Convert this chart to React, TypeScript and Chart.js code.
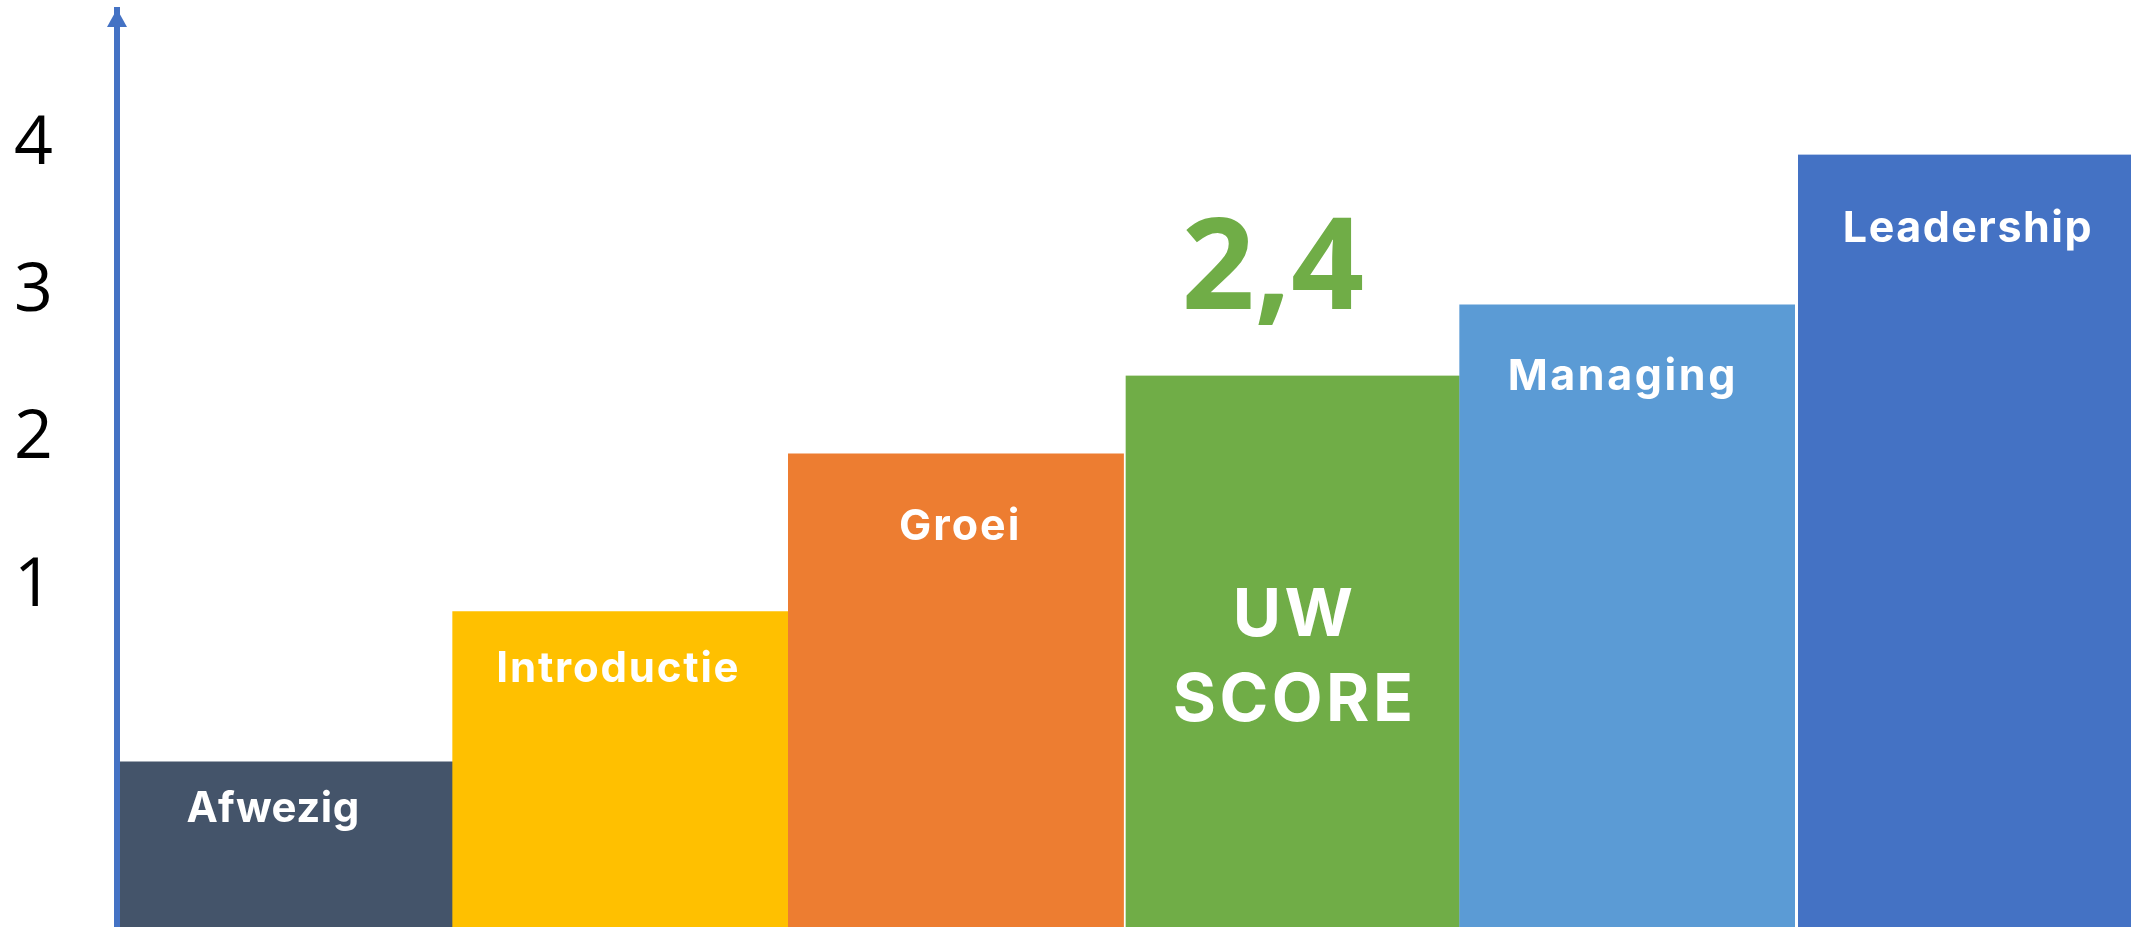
import React, { useEffect, useRef } from "react";
import { Chart, registerables } from "chart.js";

Chart.register(...registerables);

// ---- data ----
const categories = ["Afwezig", "Introductie", "Groei", "UW SCORE", "Managing", "Leadership"];
const levelValues = [-0.19, 0.83, 1.9, 2.43, 2.91, 3.93];
const axisBase = -1.31;
const axisMax = 4.91;
const tickValues = [1, 2, 3, 4];
const tickLabels = ["1", "2", "3", "4"];
const barLabelLines = [["Afwezig"], ["Introductie"], ["Groei"], ["UW", "SCORE"], ["Managing"], ["Leadership"]];
const scoreIndex = 3;
const scoreText = "2,4";

// ---- styles ----
const barColors = ["#44546A", "#FFC000", "#ED7D31", "#70AD47", "#5B9BD5", "#4472C4"];
const axisColor = "#4472C4";
const labelStyles = [
  { font: "700 42px Inter", ls: 0.5, dx: -12, dy: 60, lh: 0 },
  { font: "700 42px Inter", ls: 1.8, dx: -3, dy: 70, lh: 0 },
  { font: "700 43px Inter", ls: 2, dx: 3, dy: 86, lh: 0 },
  { font: "700 66px Inter", ls: 3.5, dx: 1, dy: 260, lh: 85 },
  { font: "700 43px Inter", ls: 2.6, dx: -6, dy: 85, lh: 0 },
  { font: "700 43px Inter", ls: 1.5, dx: 4, dy: 88, lh: 0 },
];
const scoreFont = "700 128px 'Open Sans'";

const labelPlugin = {
  id: "barLabels",
  afterDatasetsDraw(chart: any) {
    const ctx = chart.ctx as CanvasRenderingContext2D;
    const meta = chart.getDatasetMeta(0);
    meta.data.forEach((bar: any, i: number) => {
      const st = labelStyles[i];
      ctx.save();
      ctx.fillStyle = "#ffffff";
      ctx.font = st.font;
      (ctx as any).letterSpacing = st.ls + "px";
      ctx.textAlign = "center";
      ctx.textBaseline = "alphabetic";
      barLabelLines[i].forEach((line, k) => {
        ctx.fillText(line, bar.x + st.dx + st.ls / 2, bar.y + st.dy + k * st.lh);
      });
      ctx.restore();
    });
    const sb = meta.data[scoreIndex];
    ctx.save();
    ctx.fillStyle = barColors[scoreIndex];
    ctx.font = scoreFont;
    ctx.textAlign = "center";
    ctx.textBaseline = "alphabetic";
    ctx.fillText(scoreText, sb.x - 19, sb.y - 67);
    ctx.restore();
  },
};

const arrowPlugin = {
  id: "axisArrow",
  afterDraw(chart: any) {
    const ctx = chart.ctx as CanvasRenderingContext2D;
    const x = chart.chartArea.left;
    ctx.save();
    ctx.fillStyle = axisColor;
    ctx.beginPath();
    ctx.moveTo(x, 9);
    ctx.lineTo(x - 10, 27);
    ctx.lineTo(x + 10, 27);
    ctx.closePath();
    ctx.fill();
    ctx.restore();
  },
};

export default function App() {
  const ref = useRef<HTMLCanvasElement>(null);
  useEffect(() => {
    let chart: Chart | null = null;
    let cancelled = false;
    const fonts = ["700 42px Inter", "400 68px 'Open Sans'", scoreFont];
    Promise.all(fonts.map((f) => document.fonts.load(f)))
      .catch(() => null)
      .then(() => {
        if (cancelled || !ref.current) return;
        chart = new Chart(ref.current, {
          type: "bar",
          data: {
            labels: categories,
            datasets: [
              {
                data: levelValues,
                base: axisBase,
                backgroundColor: barColors,
                borderColor: "#ffffff",
                borderWidth: [0, 0, 0, { left: 2 }, 0, { left: 3 }] as any,
                borderSkipped: "bottom",
                categoryPercentage: 1,
                barPercentage: 1,
              },
            ],
          },
          options: {
            animation: false,
            responsive: false,
            layout: { padding: { top: 10, left: 0, right: 0, bottom: 0 } },
            plugins: { legend: { display: false }, tooltip: { enabled: false } },
            scales: {
              x: { display: false, grid: { display: false } },
              y: {
                min: axisBase,
                max: axisMax,
                grid: { display: false, drawTicks: false },
                border: { display: true, color: axisColor, width: 6, z: 1 },
                afterBuildTicks: (scale: any) => {
                  scale.ticks = tickValues.map((v) => ({ value: v }));
                },
                afterFit: (scale: any) => {
                  scale.width = 117;
                  scale.paddingTop = 0;
                  scale.paddingBottom = 0;
                },
                ticks: {
                  color: "#000000",
                  padding: 64,
                  font: { family: "'Open Sans'", size: 68, weight: "normal" },
                  callback: (v: any) => {
                    const idx = tickValues.indexOf(Number(v));
                    return idx >= 0 ? tickLabels[idx] : "";
                  },
                },
              },
            },
          },
          plugins: [labelPlugin, arrowPlugin],
        } as any);
      });
    return () => {
      cancelled = true;
      if (chart) chart.destroy();
    };
  }, []);
  return (
    <div style={{ position: "fixed", left: 0, top: 0, width: 2131, height: 927, background: "#ffffff" }}>
      <canvas ref={ref} width={2131} height={927} style={{ display: "block" }} />
    </div>
  );
}
